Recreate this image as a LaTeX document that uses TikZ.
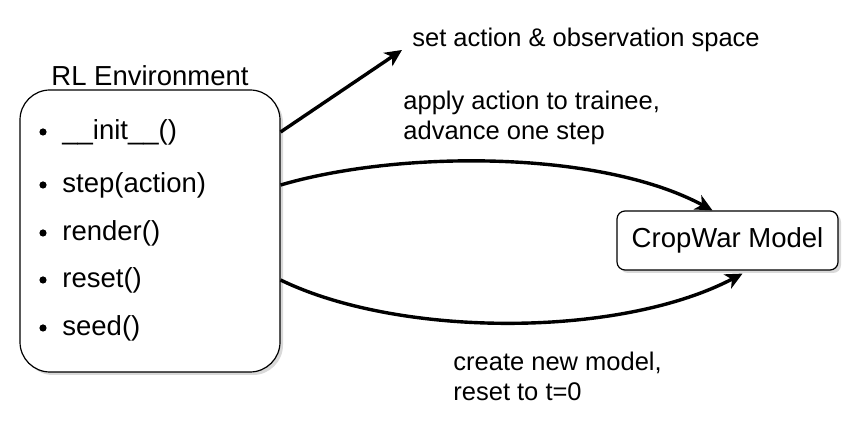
\documentclass[tikz,border=0pt]{standalone}
\usepackage{fontspec}
\setmainfont{Liberation Sans}
\usetikzlibrary{arrows.meta, calc, shadows}

\tikzset{
  envbox/.style={draw, rounded corners=15pt, line width=0.6pt, fill=white,
    drop shadow={shadow xshift=1.5pt, shadow yshift=-1.5pt, opacity=0.3}},
  modelbox/.style={draw, rounded corners=4pt, line width=0.6pt, fill=white,
    drop shadow={shadow xshift=1.5pt, shadow yshift=-1.5pt, opacity=0.3}},
  nodetext/.style={font=\fontsize{13.75}{16.5}\selectfont},
  edgelabel/.style={font=\fontsize{12.75}{15}\selectfont, align=left, anchor=west, inner sep=0pt},
  dot/.style={circle, fill, inner sep=0pt, minimum size=3.6pt},
  flow/.style={line width=1.7pt, -{Stealth[length=8.5pt, width=8pt, inset=2.5pt]}},
}

\begin{document}
\begin{tikzpicture}[x=0.5pt, y=-0.5pt]
  \useasboundingbox (0,0) rectangle (866,431);

  % RL environment and its methods
  \node[envbox, minimum width=130pt, minimum height=141pt] (env) at (150,231) {};
  \node[nodetext] (envtitle) at (150,76) {RL Environment};
  \foreach \y/\txt [count=\i] in {132/\_\_init\_\_(), 185/step(action), 233/render(), 280/reset(), 328/seed()} {
    \node[dot] (b\i) at (43,\y) {};
    \node[nodetext, anchor=west, inner sep=0pt] (m\i) at (62,\y) {\txt};
  }

  % CropWar model
  \node[modelbox, nodetext, minimum width=110.5pt, minimum height=29.5pt] (model) at (727.5,240.5) {CropWar Model};

  % Arrows
  \coordinate (spaces) at (402,50);
  \draw[flow] (env.east |- b1) -- (spaces);
  \draw[flow] (env.east |- b2) .. controls (400,150) and (600,150) .. ($(model.north)+(-15,0)$);
  \draw[flow] (env.east |- b4) .. controls (400,338) and (620,338) .. ($(model.south)+(15,3)$);

  % Labels
  \node[edgelabel] (initlabel) at (412,40) {set action \& observation space};
  \node[edgelabel] (steplabel) at (403,118) {apply action to trainee,\\advance one step};
  \node[edgelabel] (resetlabel) at (453,376) {create new model,\\reset to t=0};
\end{tikzpicture}
\end{document}
